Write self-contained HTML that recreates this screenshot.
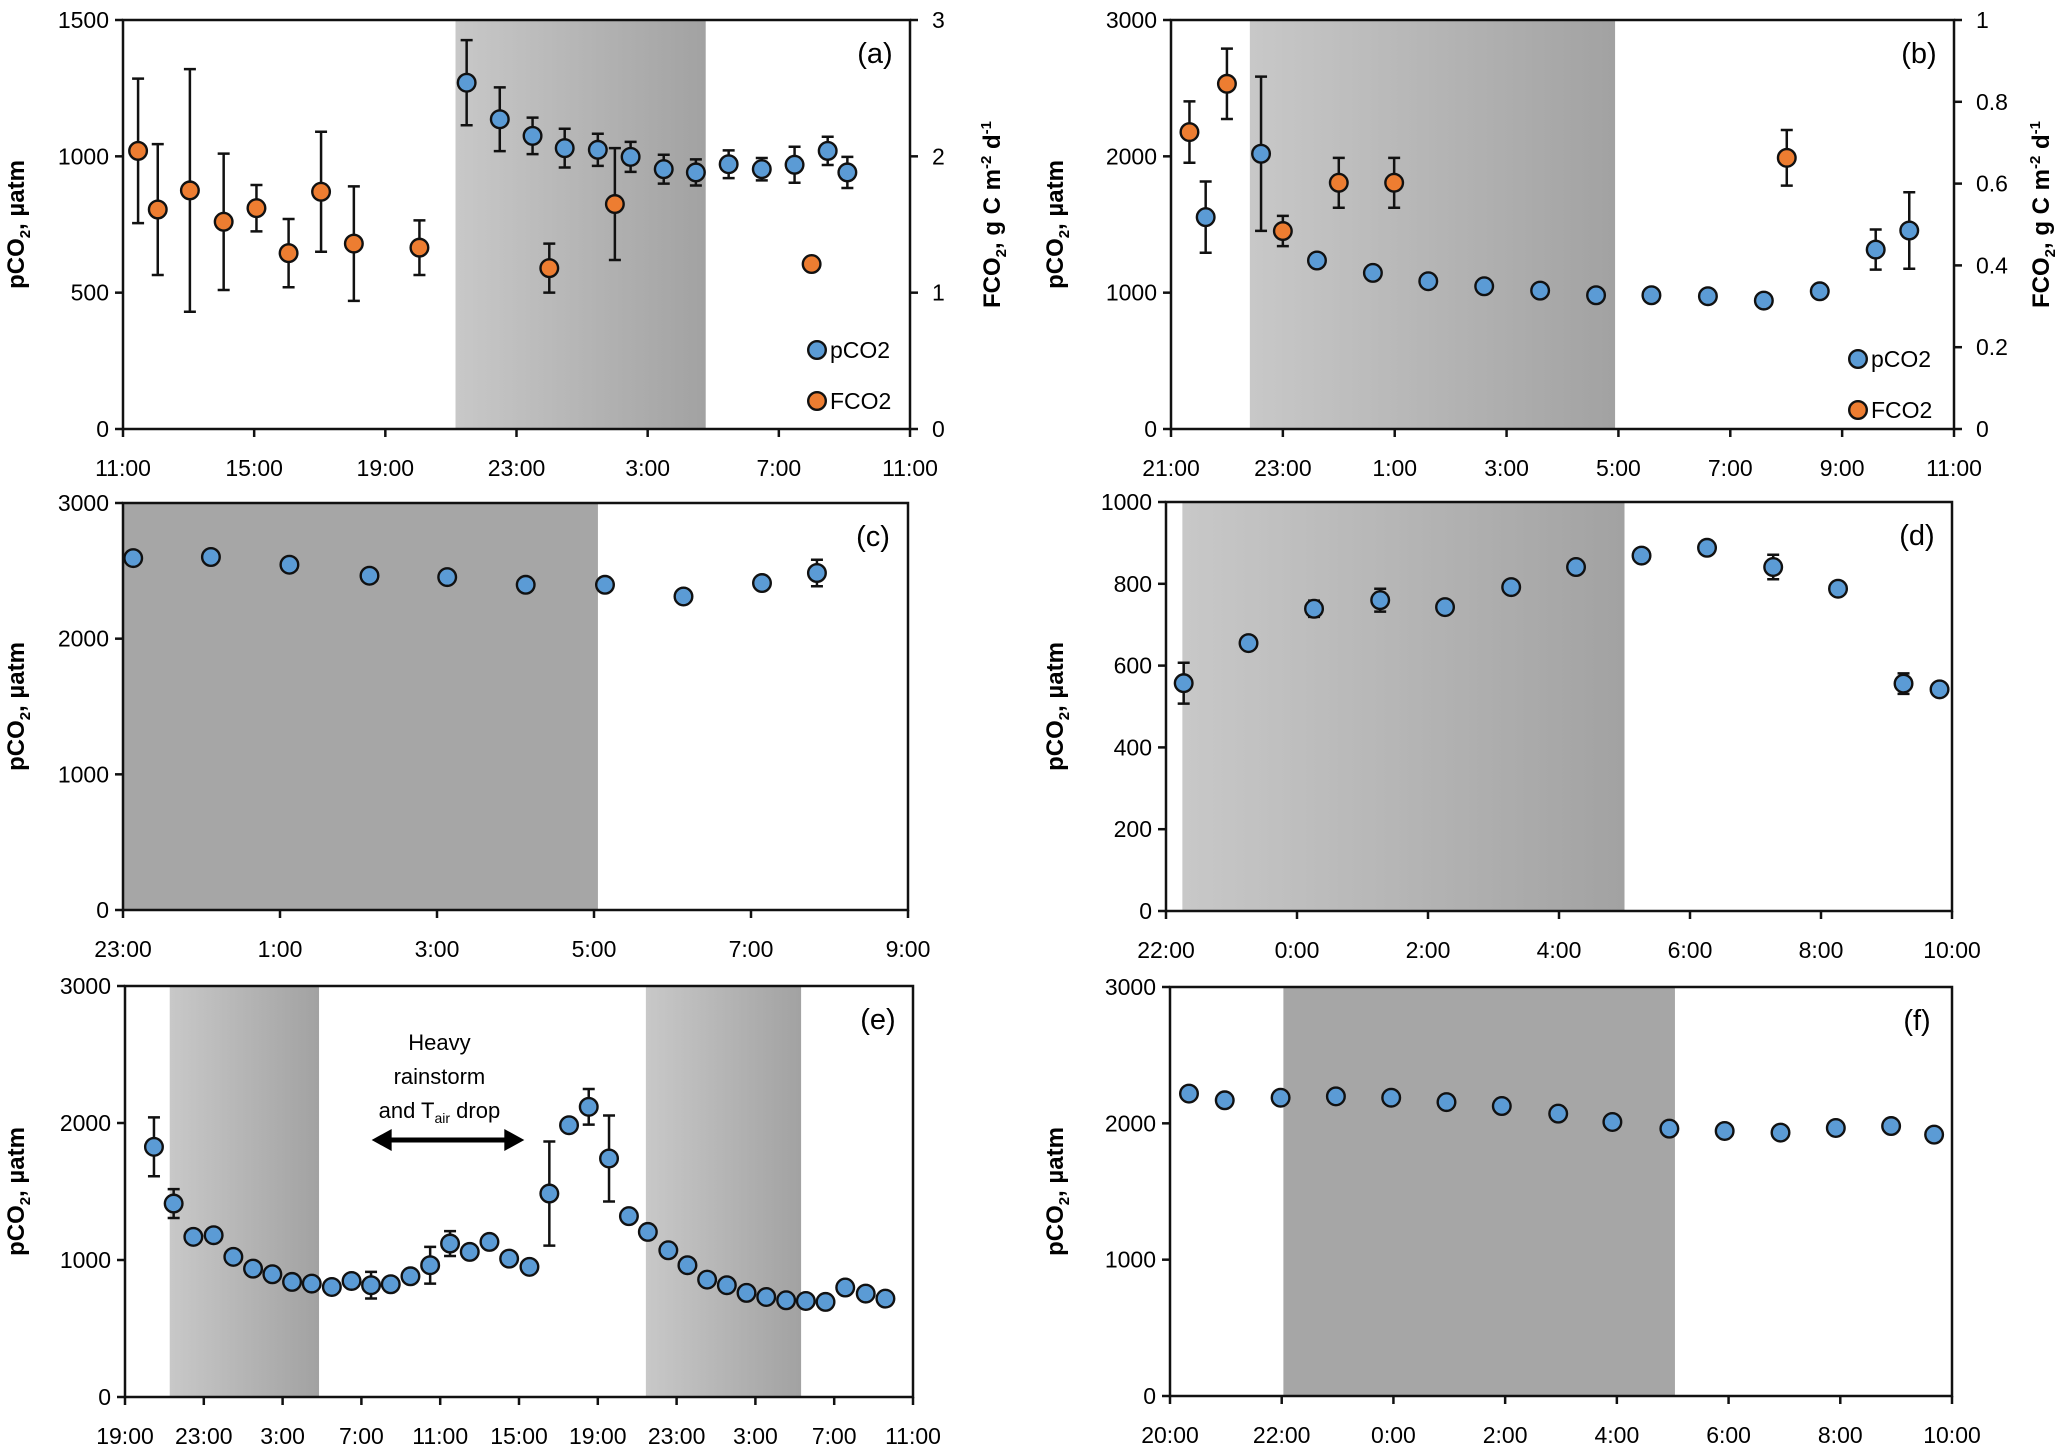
<!DOCTYPE html>
<html><head><meta charset="utf-8"><style>
html,body{margin:0;padding:0;background:#fff;}
svg{display:block;}
text{font-family:"Liberation Sans",sans-serif;fill:#000;}
</style></head><body>
<svg id="fig" xmlns="http://www.w3.org/2000/svg" width="2067" height="1445" viewBox="0 0 2067 1445">
<defs>
<linearGradient id="gShade" x1="0" x2="1" y1="0" y2="0"><stop offset="0" stop-color="#c8c8c8"/><stop offset="1" stop-color="#a2a2a2"/></linearGradient>
</defs>
</svg>
<script>
// Panel (a)
const aXLabels=['11:00','15:00','19:00','23:00','3:00','7:00','11:00'];
const aYTicks=[0,500,1000,1500];
const aY2Ticks=[0,1,2,3];
const aFcoT=[0.46,1.06,2.04,3.07,4.07,5.05,6.04,7.04,9.04,13.0,15.0,21.0];
const aFcoV=[2.04,1.61,1.75,1.52,1.62,1.29,1.74,1.36,1.33,1.18,1.65,1.21];
const aFcoE=[0.53,0.48,0.89,0.50,0.17,0.25,0.44,0.42,0.20,0.18,0.41,0];
const aPT=[10.48,11.49,12.49,13.47,14.48,15.48,16.49,17.47,18.47,19.48,20.48,21.49,22.09];
const aPV=[1270,1136,1075,1030,1024,998,953,941,971,953,969,1020,941];
const aPE=[156,117,67,71,59,55,53,48,51,41,66,52,57];
const aShade=[[10.14,17.77]];
// Panel (b)
const bXLabels=['21:00','23:00','1:00','3:00','5:00','7:00','9:00','11:00'];
const bYTicks=[0,1000,2000,3000];
const bY2Ticks=[0,0.2,0.4,0.6,0.8,1];
const bFT=[0.33,1.0,2.0,3.0,3.99,11.01];
const bFV=[0.726,0.844,0.484,0.602,0.602,0.663];
const bFE=[0.075,0.086,0.037,0.061,0.061,0.068];
const bPT=[0.62,1.61,2.61,3.61,4.6,5.6,6.6,7.6,8.59,9.6,10.6,11.6,12.6,13.2];
const bPV=[1554,2019,1236,1145,1084,1047,1015,981,981,974,942,1010,1316,1456];
const bPE=[261,566,28,20,30,25,30,25,10,10,20,45,147,281];
const bShade=[[1.41,7.94]];
// Panel (c)
const cXLabels=['23:00','1:00','3:00','5:00','7:00','9:00'];
const cYTicks=[0,1000,2000,3000];
const cT=[0.13,1.12,2.12,3.14,4.13,5.13,6.14,7.14,8.14,8.84];
const cV=[2594,2602,2545,2464,2454,2397,2397,2311,2410,2484];
const cE=[20,40,20,20,40,40,20,20,20,98];
const cShade=[[0,6.05]];
// Panel (d)
const dXLabels=['22:00','0:00','2:00','4:00','6:00','8:00','10:00'];
const dYTicks=[0,200,400,600,800,1000];
const dT=[0.27,1.26,2.26,3.27,4.26,5.27,6.26,7.26,8.26,9.27,10.26,11.26,11.81];
const dV=[557,655,739,760,743,792,841,869,888,841,788,556,542];
const dE=[50,15,20,28,8,8,8,5,5,30,10,25,0];
const dShade=[[0.25,7.0]];
// Panel (e)
const eXLabels=['19:00','23:00','3:00','7:00','11:00','15:00','19:00','23:00','3:00','7:00','11:00'];
const eYTicks=[0,1000,2000,3000];
const eT=[1.47,2.47,3.47,4.5,5.5,6.5,7.48,8.48,9.48,10.5,11.5,12.49,13.49,14.49,15.49,16.5,17.5,18.5,19.5,20.53,21.54,22.54,23.54,24.57,25.58,26.54,27.58,28.55,29.55,30.55,31.55,32.55,33.56,34.56,35.56,36.56,37.6,38.6];
const eV=[1826,1412,1169,1181,1023,937,896,840,828,803,847,816,823,881,962,1120,1059,1132,1010,950,1485,1984,2118,1741,1320,1205,1071,962,857,816,760,730,706,701,694,799,755,718];
const eE=[215,105,30,30,0,0,0,0,0,30,30,97,0,30,134,91,30,0,0,0,380,40,130,314,45,45,0,0,0,0,0,0,0,0,0,45,0,0];
const eShade=[[2.27,9.85],[26.44,34.32]];
// Panel (f)
const fXLabels=['20:00','22:00','0:00','2:00','4:00','6:00','8:00','10:00'];
const fYTicks=[0,1000,2000,3000];
const fT=[0.34,0.98,1.98,2.97,3.96,4.95,5.94,6.95,7.92,8.94,9.93,10.93,11.92,12.91,13.68];
const fV=[2218,2169,2188,2198,2188,2156,2127,2071,2010,1961,1944,1932,1966,1980,1917];
const fE=[0,0,0,0,0,0,0,0,0,0,0,0,0,0,0];
const fShade=[[2.03,9.04]];

const svg=document.getElementById('fig');
const NS='http://www.w3.org/2000/svg';
function mk(tag,attrs,parent){const e=document.createElementNS(NS,tag);for(const k in attrs)e.setAttribute(k,attrs[k]);(parent||svg).appendChild(e);return e;}

function panel(P){
  const g=mk('g',{});
  
  
  const sx=h=>P.l+(h-P.x0)/(P.x1-P.x0)*(P.r-P.l);
  const sy=v=>P.b-v/P.ymax*(P.b-P.t);
  const sy2=v=>P.b-v/P.y2max*(P.b-P.t);
  P.shade.forEach(s=>{
    const r=mk('rect',{x:sx(s[0]),y:P.t,width:sx(s[1])-sx(s[0]),height:P.b-P.t,fill:P.grad?'url(#gShade)':'#a6a6a6'},g);
    
    
  });
  const fr=mk('rect',{x:P.l,y:P.t,width:P.r-P.l,height:P.b-P.t,fill:'none',stroke:'#111','stroke-width':2.5},g);
  
  
  P.yticks.forEach(v=>{
    const y=sy(v);
    mk('line',{x1:P.l-8,x2:P.l,y1:y,y2:y,stroke:'#111','stroke-width':2.5},g);
    const t=mk('text',{x:P.l-14,y:y+8,'text-anchor':'end','font-size':23},g);
    t.textContent=v;
    
    
  });
  if(P.y2ticks){
    P.y2ticks.forEach(v=>{
      const y=sy2(v);
      mk('line',{x1:P.r,x2:P.r+8,y1:y,y2:y,stroke:'#111','stroke-width':2.5},g);
      const t=mk('text',{x:P.r+22,y:y+8,'text-anchor':'start','font-size':23},g);
      t.textContent=v;
      
      
    });
  }
  const n=P.xlabels.length;
  P.xlabels.forEach((lab,i)=>{
    const h=P.x0+i*(P.x1-P.x0)/(n-1);
    const x=sx(h);
    mk('line',{x1:x,x2:x,y1:P.b,y2:P.b+8,stroke:'#111','stroke-width':2.5},g);
    const t=mk('text',{x:x,y:P.b+47,'text-anchor':'middle','font-size':23},g);
    t.textContent=lab;
    
    
  });
  const yt=mk('text',{transform:`translate(${P.ytx},${(P.t+P.b)/2}) rotate(-90)`,'text-anchor':'middle','font-size':24,'font-weight':'bold'},g);
  yt.innerHTML='pCO<tspan font-size="15" dy="6">2</tspan><tspan dy="-6">, µatm</tspan>';
  
  
  if(P.y2tx){
    const y2=mk('text',{transform:`translate(${P.y2tx},${(P.t+P.b)/2-10}) rotate(-90)`,'text-anchor':'middle','font-size':24,'font-weight':'bold'},g);
    y2.innerHTML='FCO<tspan font-size="15" dy="6">2</tspan><tspan dy="-6">, g C m</tspan><tspan font-size="15" dy="-9">-2</tspan><tspan dy="9"> d</tspan><tspan font-size="15" dy="-9">-1</tspan>';
    
    
  }
  const pl=mk('text',{x:P.r-35,y:P.t+43,'text-anchor':'middle','font-size':29},g);
  pl.textContent='('+P.id+')';
  
  
  P.series.forEach(S=>{
    const scale=S.axis2?sy2:sy;
    S.t.forEach((h,i)=>{
      const x=sx(h),y=scale(S.v[i]);
      const e=S.e[i];
      if(e>0){
        const yt=scale(S.v[i]+e),yb=scale(S.v[i]-e);
        const eb=mk('path',{d:`M${x},${yt}V${yb}M${x-6},${yt}H${x+6}M${x-6},${yb}H${x+6}`,stroke:'#111','stroke-width':2.5,fill:'none'},g);
        
        
      }
      const c=mk('circle',{cx:x,cy:y,r:8.8,fill:S.color,stroke:'#111','stroke-width':2.4},g);
      
      
    });
  });
  if(P.legend){
    P.legend.forEach((L,i)=>{
      const c=mk('circle',{cx:P.legend.x,cy:P.legend.y+i*51,r:8.8,fill:L.color,stroke:'#111','stroke-width':2.4},g);
      
      
      const t=mk('text',{x:P.legend.x+13,y:P.legend.y+i*51+8,'font-size':23},g);
      t.textContent=L.label;
      
      
    });
  }
  return {g,sx,sy};
}
const BLUE='#5b9bd5',ORANGE='#ed7d31';
const legA=[{color:BLUE,label:'pCO2'},{color:ORANGE,label:'FCO2'}];legA.x=817;legA.y=350;
const legB=[{color:BLUE,label:'pCO2'},{color:ORANGE,label:'FCO2'}];legB.x=1858;legB.y=359;

panel({id:'a',l:123,r:910,t:20,b:429,x0:0,x1:24,ymax:1500,y2max:3,yticks:aYTicks,y2ticks:aY2Ticks,xlabels:aXLabels,shade:aShade,grad:true,ytx:24,y2tx:1000,legend:legA,
  series:[{name:'fco2',t:aFcoT,v:aFcoV,e:aFcoE,color:ORANGE,axis2:true},{name:'pco2',t:aPT,v:aPV,e:aPE,color:BLUE}]});
panel({id:'b',l:1171,r:1954,t:20,b:429,x0:0,x1:14,ymax:3000,y2max:1,yticks:bYTicks,y2ticks:bY2Ticks,xlabels:bXLabels,shade:bShade,grad:true,ytx:1063,y2tx:2049,legend:legB,
  series:[{name:'pco2',t:bPT,v:bPV,e:bPE,color:BLUE},{name:'fco2',t:bFT,v:bFV,e:bFE,color:ORANGE,axis2:true}]});
panel({id:'c',l:123,r:908,t:503,b:910,x0:0,x1:10,ymax:3000,yticks:cYTicks,xlabels:cXLabels,shade:cShade,grad:false,ytx:24,
  series:[{name:'pco2',t:cT,v:cV,e:cE,color:BLUE}]});
panel({id:'d',l:1166,r:1952,t:502,b:911,x0:0,x1:12,ymax:1000,yticks:dYTicks,xlabels:dXLabels,shade:dShade,grad:true,ytx:1063,
  series:[{name:'pco2',t:dT,v:dV,e:dE,color:BLUE}]});
const E=panel({id:'e',l:125,r:913,t:986,b:1397,x0:0,x1:40,ymax:3000,yticks:eYTicks,xlabels:eXLabels,shade:eShade,grad:true,ytx:24,
  series:[{name:'pco2',t:eT,v:eV,e:eE,color:BLUE}]});
panel({id:'f',l:1170,r:1952,t:987,b:1396,x0:0,x1:14,ymax:3000,yticks:fYTicks,xlabels:fXLabels,shade:fShade,grad:false,ytx:1063,
  series:[{name:'pco2',t:fT,v:fV,e:fE,color:BLUE}]});

const arrowSpan=[12.52,20.27];
const annoCenter=15.96;
const ax1=E.sx(arrowSpan[0]),ax2=E.sx(arrowSpan[1]),ay=1140;
const arr=mk('path',{d:`M${ax1+14},${ay}H${ax2-14}`,stroke:'#000','stroke-width':5},E.g);


const ah1=mk('path',{d:`M${ax1},${ay}L${ax1+20},${ay-11}L${ax1+20},${ay+11}Z`,fill:'#000'},E.g);


const ah2=mk('path',{d:`M${ax2},${ay}L${ax2-20},${ay-11}L${ax2-20},${ay+11}Z`,fill:'#000'},E.g);


const annoLines=['Heavy','rainstorm'];
annoLines.forEach((s,i)=>{
  const t=mk('text',{x:E.sx(annoCenter),y:1050+i*34,'text-anchor':'middle','font-size':22},E.g);
  t.textContent=s;
  
  
});
const t3=mk('text',{x:E.sx(annoCenter),y:1118,'text-anchor':'middle','font-size':22},E.g);
t3.innerHTML='and T<tspan font-size="14" dy="5">air</tspan><tspan dy="-5"> drop</tspan>';


</script>
</body></html>
